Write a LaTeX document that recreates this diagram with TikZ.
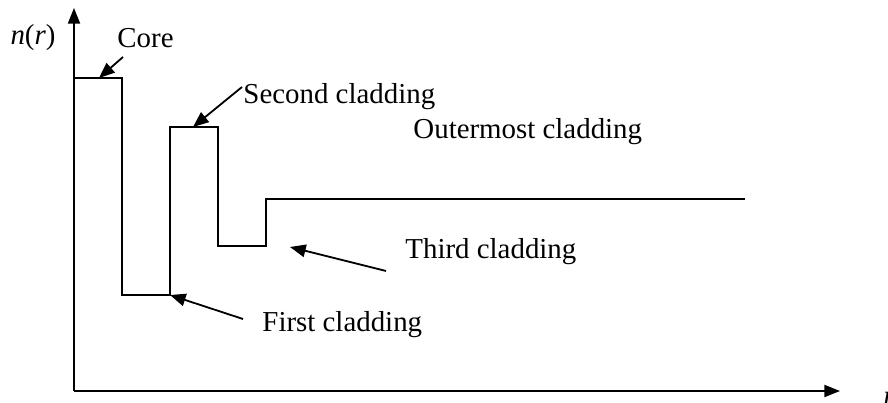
\documentclass[tikz,border=0pt]{standalone}
\usepackage{fontspec}
\setmainfont{Liberation Serif}
\usetikzlibrary{arrows.meta}

\tikzset{
  axis/.style={line width=0.8pt, -{Triangle[length=6.5pt, width=5pt]}},
  profile/.style={line width=0.6pt, line join=miter},
  pointer/.style={line width=0.75pt, -{Triangle[length=6.5pt, width=5.2pt]}},
  label/.style={inner sep=0pt, anchor=west}
}

\begin{document}
\begin{tikzpicture}[x=0.0146cm, y=-0.0146cm, font=\fontsize{12}{14}\selectfont]

    % 0. Frame of the picture (pixel grid of the reference)
    \useasboundingbox (0,0) rectangle (888,403);

    % 1. Axes
    \coordinate (origin) at (74,391);
    \coordinate (ytip) at (74,8);
    \coordinate (xtip) at (840,391);
    \draw[axis] (origin) -- (ytip);
    \draw[axis] (origin) -- (xtip);
    \node[label, anchor=east] (nr) at (56,38) {\textit{n}(\textit{r})};
    \node[label] (r) at (883,399) {\textit{r}};

    % 2. Refractive index profile (steps)
    \coordinate (coreTop) at (99,78);
    \coordinate (firstLow) at (170,295);
    \coordinate (secondTop) at (193,127);
    \coordinate (thirdLow) at (290,247);
    \draw[profile] (74,78) -- (122,78) -- (122,295) -- (firstLow)
        -- (170,127) -- (218,127) -- (218,246) -- (266,246)
        -- (266,199) -- (745,199);

    % 3. Labels of the layers
    \node[label] (core) at (117,38) {Core};
    \node[label] (second) at (243,97) {Second cladding};
    \node[label] (outer) at (413,132) {Outermost cladding};
    \node[label] (third) at (405,252) {Third cladding};
    \node[label] (first) at (262,325) {First cladding};

    % 4. Pointers from the labels to the steps
    \coordinate (coreTail) at (123,57);
    \coordinate (secondTail) at (242,87);
    \coordinate (thirdTail) at (386,271);
    \coordinate (firstTail) at (243,319);
    \draw[pointer] (coreTail) -- (coreTop);
    \draw[pointer] (secondTail) -- (secondTop);
    \draw[pointer] (thirdTail) -- (thirdLow);
    \draw[pointer] (firstTail) -- (firstLow);

\end{tikzpicture}
\end{document}
